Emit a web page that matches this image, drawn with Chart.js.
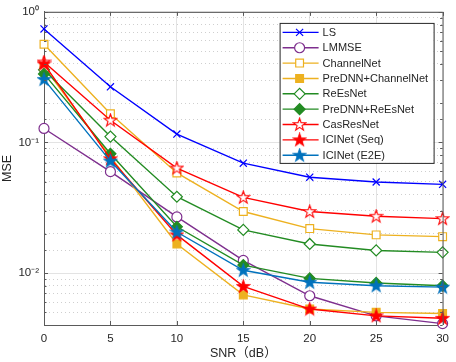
<!DOCTYPE html>
<html>
<head>
<meta charset="utf-8">
<script src="https://cdn.jsdelivr.net/npm/chart.js@4.4.1/dist/chart.umd.min.js"></script>
<style>
  html, body { margin: 0; padding: 0; background: #fff; }
  #wrap { width: 456px; height: 362px; }
</style>
</head>
<body>
<div id="wrap"><canvas id="mseChart" width="456" height="362"></canvas></div>
<script>
// SNR points (dB)
const snr = [0, 5, 10, 15, 20, 25, 30];

// MSE per method
const ls            = [0.74, 0.267, 0.116, 0.0694, 0.0542, 0.0498, 0.0478];
const lmmse         = [0.128, 0.0598, 0.0269, 0.0125, 0.0067, 0.0047, 0.0041];
const channelNet    = [0.566, 0.166, 0.0584, 0.0296, 0.0219, 0.0196, 0.019];
const preChannelNet = [0.38, 0.078, 0.0167, 0.0068, 0.0053, 0.0050, 0.0049];
const reEsNet       = [0.36, 0.111, 0.0384, 0.0214, 0.0167, 0.0149, 0.0144];
const preReEsNet    = [0.335, 0.082, 0.0226, 0.0115, 0.0091, 0.0084, 0.0080];
const casResNet     = [0.413, 0.148, 0.0637, 0.038, 0.0296, 0.0272, 0.0261];
const iciSeq        = [0.40, 0.075, 0.0196, 0.0079, 0.0053, 0.0047, 0.0045];
const iciE2E        = [0.304, 0.072, 0.0206, 0.0105, 0.0085, 0.0080, 0.0078];

const names = ['LS', 'LMMSE', 'ChannelNet', 'PreDNN+ChannelNet', 'ReEsNet',
  'PreDNN+ReEsNet', 'CasResNet', 'ICINet (Seq)', 'ICINet (E2E)'];

const BLUE = '#0000ff', PURPLE = '#7e2f8e', ORANGE = '#edb120',
      GREEN = '#228b22', RED = '#ff0000', LBLUE = '#0072bd';

// pentagram marker as a small canvas
function makeStar(color, filled) {
  const c = document.createElement('canvas');
  c.width = 15; c.height = 15;
  const g = c.getContext('2d');
  const R = 6.6, r = 2.6, cx = 7.5, cy = 7.8;
  g.beginPath();
  for (let i = 0; i < 10; i++) {
    const rad = (i % 2 === 0) ? R : r;
    const a = -Math.PI / 2 + i * Math.PI / 5;
    const px = cx + rad * Math.cos(a), py = cy + rad * Math.sin(a);
    if (i === 0) g.moveTo(px, py); else g.lineTo(px, py);
  }
  g.closePath();
  g.fillStyle = filled ? color : '#ffffff';
  g.fill();
  g.lineWidth = 1.1;
  g.strokeStyle = color;
  g.stroke();
  return c;
}

const styles = [
  {color: BLUE,   point: 'crossRot', radius: 5, fill: BLUE},
  {color: PURPLE, point: 'circle',   radius: 5, fill: '#ffffff'},
  {color: ORANGE, point: 'rect',     radius: 5.5, fill: '#ffffff'},
  {color: ORANGE, point: 'rect',     radius: 5.5, fill: ORANGE},
  {color: GREEN,  point: 'rectRot',  radius: 5.5, fill: '#ffffff'},
  {color: GREEN,  point: 'rectRot',  radius: 5.5, fill: GREEN},
  {color: RED,    point: makeStar(RED, false), radius: 6, fill: RED},
  {color: RED,    point: makeStar(RED, true),  radius: 6, fill: RED},
  {color: LBLUE,  point: makeStar(LBLUE, true), radius: 6, fill: LBLUE}
];

const series = [ls, lmmse, channelNet, preChannelNet, reEsNet, preReEsNet, casResNet, iciSeq, iciE2E];

const datasets = series.map(function(vals, i) {
  const s = styles[i];
  return {
    label: names[i],
    data: vals.map(function(v, k) { return {x: snr[k], y: v}; }),
    borderColor: s.color,
    borderWidth: 1.4,
    pointStyle: s.point,
    pointRadius: s.radius,
    pointHoverRadius: s.radius,
    pointBorderColor: s.color,
    pointBackgroundColor: s.fill,
    pointBorderWidth: 1.2,
    tension: 0,
    clip: false,
    order: series.length - i
  };
});

function isDecade(v) {
  const e = Math.log10(v);
  return Math.abs(e - Math.round(e)) < 1e-6;
}
const SUP = {'-': '\u207b', '0': '\u2070', '1': '\u00b9', '2': '\u00b2', '3': '\u00b3'};
function supText(n) {
  return String(n).split('').map(function(ch) { return SUP[ch]; }).join('');
}

const FONT = "'Liberation Sans', Arial, 'Noto Sans CJK SC', sans-serif";
const TXT = '#262626';
const AXIS = '#5a5a5a';

// frame on top and right (matlab box) + small inward ticks
const boxFrame = {
  id: 'boxFrame',
  afterDatasetsDraw(chart) {
    const a = chart.chartArea, c = chart.ctx;
    const xs = chart.scales.x, ys = chart.scales.y;
    c.save();
    c.strokeStyle = AXIS;
    c.lineWidth = 1;
    c.beginPath();
    c.moveTo(a.left, a.top + 0.5);
    c.lineTo(a.right + 0.5, a.top + 0.5);
    c.lineTo(a.right + 0.5, a.bottom);
    xs.ticks.forEach(function(t) {
      const px = Math.round(xs.getPixelForValue(t.value)) + 0.5;
      c.moveTo(px, a.bottom); c.lineTo(px, a.bottom - 4);
      c.moveTo(px, a.top); c.lineTo(px, a.top + 4);
    });
    ys.ticks.forEach(function(t) {
      const py = Math.round(ys.getPixelForValue(t.value)) + 0.5;
      const len = isDecade(t.value) ? 4 : 2.5;
      c.moveTo(a.left, py); c.lineTo(a.left + len, py);
      c.moveTo(a.right, py); c.lineTo(a.right - len, py);
    });
    c.stroke();
    c.restore();
  }
};

// legend with line + marker samples
const lineLegend = {
  id: 'lineLegend',
  afterDraw(chart) {
    const a = chart.chartArea, c = chart.ctx;
    const left = a.right - 163, top = a.top + 11, w = 154, h = 140;
    c.save();
    c.fillStyle = '#ffffff';
    c.fillRect(left, top, w, h);
    c.strokeStyle = '#262626';
    c.lineWidth = 1;
    c.strokeRect(left + 0.5, top + 0.5, w, h);
    c.font = '11px ' + FONT;
    c.textBaseline = 'middle';
    chart.data.datasets.forEach(function(ds, i) {
      const y = top + 9.5 + i * 15.35;
      c.strokeStyle = ds.borderColor;
      c.lineWidth = 1.4;
      c.beginPath();
      c.moveTo(left + 3, y);
      c.lineTo(left + 39, y);
      c.stroke();
      c.fillStyle = ds.pointBackgroundColor;
      c.strokeStyle = ds.pointBorderColor;
      c.lineWidth = ds.pointBorderWidth;
      Chart.helpers.drawPoint(c, {pointStyle: ds.pointStyle, radius: ds.pointRadius, rotation: 0, borderWidth: ds.pointBorderWidth}, left + 20, y);
      c.fillStyle = TXT;
      c.fillText(ds.label, left + 43, y + 0.5);
    });
    c.restore();
  }
};

new Chart(document.getElementById('mseChart'), {
  type: 'line',
  data: { datasets: datasets },
  plugins: [boxFrame, lineLegend],
  options: {
    responsive: false,
    animation: false,
    layout: { padding: { top: 6, right: 10, left: 0, bottom: 0 } },
    plugins: {
      legend: { display: false },
      tooltip: { enabled: false }
    },
    scales: {
      x: {
        type: 'linear',
        min: 0,
        max: 30,
        afterFit: function(scale) { scale.height = 37; },
        ticks: {
          stepSize: 5,
          color: TXT,
          padding: 7,
          font: { family: FONT, size: 11.5 }
        },
        grid: { color: '#e3e3e3', lineWidth: 1, drawTicks: false },
        border: { color: AXIS, width: 1 },
        title: {
          display: true,
          text: 'SNR（dB）',
          color: TXT,
          padding: { top: 0, bottom: 1 },
          font: { family: FONT, size: 12.5 }
        }
      },
      y: {
        type: 'logarithmic',
        min: 0.004,
        max: 1,
        afterFit: function(scale) { scale.width = 44; },
        ticks: {
          autoSkip: false,
          color: TXT,
          padding: 5,
          font: { family: FONT, size: 11.5 },
          callback: function(value) {
            if (!isDecade(value)) return '';
            return '10' + supText(Math.round(Math.log10(value)));
          }
        },
        grid: {
          drawTicks: false,
          lineWidth: 1,
          color: function(ctx) {
            if (!ctx.tick) return '#e3e3e3';
            return isDecade(ctx.tick.value) ? '#e3e3e3' : '#cfcfcf';
          }
        },
        border: {
          color: AXIS,
          width: 1,
          dash: function(ctx) {
            if (!ctx.tick) return [];
            return isDecade(ctx.tick.value) ? [] : [1, 3];
          }
        },
        title: {
          display: true,
          text: 'MSE',
          color: TXT,
          padding: { top: 0, bottom: 2 },
          font: { family: FONT, size: 12.5 }
        }
      }
    }
  }
});
</script>
</body>
</html>
